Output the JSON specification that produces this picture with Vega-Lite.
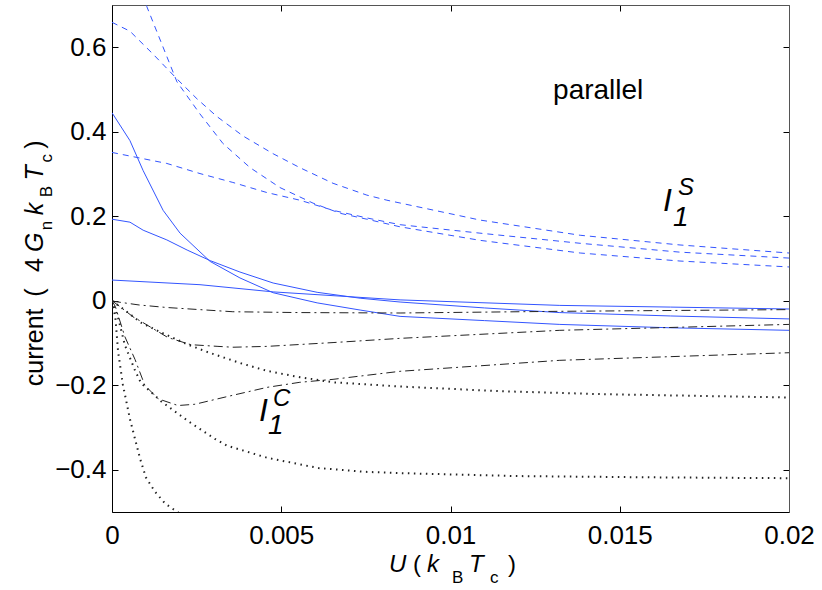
{
  "$schema": "https://vega.github.io/schema/vega-lite/v6.json",
  "width": 677,
  "height": 507,
  "autosize": {"type": "none"},
  "padding": {"left": 112, "top": 5, "right": 33, "bottom": 78},
  "background": "white",
  "config": {
    "view": {"stroke": null},
    "font": "Liberation Sans",
    "axis": {"labelFont": "Liberation Sans", "titleFont": "Liberation Sans"}
  },
  "datasets": {
    "solid": [
      {"curve": "S1", "u": 0, "i": 0.445}, {"curve": "S1", "u": 0.00053, "i": 0.379}, {"curve": "S1", "u": 0.00092, "i": 0.308},
      {"curve": "S1", "u": 0.00151, "i": 0.214}, {"curve": "S1", "u": 0.00201, "i": 0.16}, {"curve": "S1", "u": 0.0029, "i": 0.093},
      {"curve": "S1", "u": 0.00378, "i": 0.054}, {"curve": "S1", "u": 0.00476, "i": 0.019}, {"curve": "S1", "u": 0.00606, "i": -0.005},
      {"curve": "S1", "u": 0.00733, "i": -0.022}, {"curve": "S1", "u": 0.00851, "i": -0.037}, {"curve": "S1", "u": 0.011, "i": -0.047},
      {"curve": "S1", "u": 0.01323, "i": -0.056}, {"curve": "S1", "u": 0.0165, "i": -0.064}, {"curve": "S1", "u": 0.02, "i": -0.07},
      {"curve": "S2", "u": 0, "i": 0.193}, {"curve": "S2", "u": 0.00053, "i": 0.186}, {"curve": "S2", "u": 0.00092, "i": 0.167},
      {"curve": "S2", "u": 0.00162, "i": 0.144}, {"curve": "S2", "u": 0.00222, "i": 0.12}, {"curve": "S2", "u": 0.0029, "i": 0.095},
      {"curve": "S2", "u": 0.00378, "i": 0.068}, {"curve": "S2", "u": 0.00476, "i": 0.042}, {"curve": "S2", "u": 0.00606, "i": 0.02},
      {"curve": "S2", "u": 0.00733, "i": 0.006}, {"curve": "S2", "u": 0.00851, "i": -0.003}, {"curve": "S2", "u": 0.011, "i": -0.017},
      {"curve": "S2", "u": 0.01323, "i": -0.028}, {"curve": "S2", "u": 0.0165, "i": -0.036}, {"curve": "S2", "u": 0.02, "i": -0.043},
      {"curve": "S3", "u": 0, "i": 0.049}, {"curve": "S3", "u": 0.0026, "i": 0.038}, {"curve": "S3", "u": 0.00476, "i": 0.021},
      {"curve": "S3", "u": 0.00851, "i": 0.002}, {"curve": "S3", "u": 0.01323, "i": -0.011}, {"curve": "S3", "u": 0.0165, "i": -0.015},
      {"curve": "S3", "u": 0.02, "i": -0.0195}
    ],
    "dashed": [
      {"curve": "A", "u": 0, "i": 1.0}, {"curve": "A", "u": 0.0004, "i": 0.86}, {"curve": "A", "u": 0.00103, "i": 0.696},
      {"curve": "A", "u": 0.00192, "i": 0.518}, {"curve": "A", "u": 0.0026, "i": 0.442}, {"curve": "A", "u": 0.00328, "i": 0.372},
      {"curve": "A", "u": 0.00408, "i": 0.315}, {"curve": "A", "u": 0.00496, "i": 0.268}, {"curve": "A", "u": 0.00594, "i": 0.231},
      {"curve": "A", "u": 0.00674, "i": 0.207}, {"curve": "A", "u": 0.00753, "i": 0.193}, {"curve": "A", "u": 0.00851, "i": 0.175},
      {"curve": "A", "u": 0.01087, "i": 0.143}, {"curve": "A", "u": 0.01383, "i": 0.113}, {"curve": "A", "u": 0.01678, "i": 0.094},
      {"curve": "A", "u": 0.02, "i": 0.08},
      {"curve": "B", "u": 0, "i": 0.659}, {"curve": "B", "u": 0.00053, "i": 0.638}, {"curve": "B", "u": 0.00121, "i": 0.584},
      {"curve": "B", "u": 0.00192, "i": 0.525}, {"curve": "B", "u": 0.00251, "i": 0.478}, {"curve": "B", "u": 0.0031, "i": 0.436},
      {"curve": "B", "u": 0.00387, "i": 0.39}, {"curve": "B", "u": 0.00476, "i": 0.348}, {"curve": "B", "u": 0.00555, "i": 0.315},
      {"curve": "B", "u": 0.00653, "i": 0.278}, {"curve": "B", "u": 0.00753, "i": 0.25}, {"curve": "B", "u": 0.00812, "i": 0.238},
      {"curve": "B", "u": 0.01087, "i": 0.191}, {"curve": "B", "u": 0.01383, "i": 0.155}, {"curve": "B", "u": 0.01678, "i": 0.132},
      {"curve": "B", "u": 0.02, "i": 0.113},
      {"curve": "C", "u": 0, "i": 0.351}, {"curve": "C", "u": 0.00162, "i": 0.325}, {"curve": "C", "u": 0.0026, "i": 0.301},
      {"curve": "C", "u": 0.00357, "i": 0.28}, {"curve": "C", "u": 0.00458, "i": 0.256}, {"curve": "C", "u": 0.00555, "i": 0.238},
      {"curve": "C", "u": 0.00653, "i": 0.214}, {"curve": "C", "u": 0.00753, "i": 0.196}, {"curve": "C", "u": 0.00851, "i": 0.18},
      {"curve": "C", "u": 0.01087, "i": 0.16}, {"curve": "C", "u": 0.01383, "i": 0.136}, {"curve": "C", "u": 0.01678, "i": 0.115},
      {"curve": "C", "u": 0.02, "i": 0.101}
    ],
    "dashdot": [
      {"curve": "D1", "u": 0, "i": 0}, {"curve": "D1", "u": 0.0001, "i": -0.002}, {"curve": "D1", "u": 0.0008, "i": -0.01},
      {"curve": "D1", "u": 0.00162, "i": -0.016}, {"curve": "D1", "u": 0.00357, "i": -0.026}, {"curve": "D1", "u": 0.00555, "i": -0.028},
      {"curve": "D1", "u": 0.00851, "i": -0.029}, {"curve": "D1", "u": 0.01323, "i": -0.025}, {"curve": "D1", "u": 0.02, "i": -0.021},
      {"curve": "D2", "u": 0, "i": 0}, {"curve": "D2", "u": 0.00027, "i": -0.016}, {"curve": "D2", "u": 0.00062, "i": -0.038},
      {"curve": "D2", "u": 0.00086, "i": -0.049}, {"curve": "D2", "u": 0.00165, "i": -0.087}, {"curve": "D2", "u": 0.00233, "i": -0.104},
      {"curve": "D2", "u": 0.00313, "i": -0.108}, {"curve": "D2", "u": 0.00357, "i": -0.11}, {"curve": "D2", "u": 0.00458, "i": -0.108},
      {"curve": "D2", "u": 0.00653, "i": -0.099}, {"curve": "D2", "u": 0.00851, "i": -0.089}, {"curve": "D2", "u": 0.01323, "i": -0.07},
      {"curve": "D2", "u": 0.02, "i": -0.056},
      {"curve": "D3", "u": 0, "i": 0}, {"curve": "D3", "u": 0.0001, "i": -0.014}, {"curve": "D3", "u": 0.00038, "i": -0.085},
      {"curve": "D3", "u": 0.00068, "i": -0.139}, {"curve": "D3", "u": 0.00097, "i": -0.2}, {"curve": "D3", "u": 0.00136, "i": -0.232},
      {"curve": "D3", "u": 0.00195, "i": -0.248}, {"curve": "D3", "u": 0.00245, "i": -0.245}, {"curve": "D3", "u": 0.00334, "i": -0.228},
      {"curve": "D3", "u": 0.00458, "i": -0.205}, {"curve": "D3", "u": 0.00555, "i": -0.193}, {"curve": "D3", "u": 0.00653, "i": -0.186},
      {"curve": "D3", "u": 0.00851, "i": -0.167}, {"curve": "D3", "u": 0.01323, "i": -0.141}, {"curve": "D3", "u": 0.02, "i": -0.123}
    ],
    "dotted": [
      {"curve": "P1", "u": 0, "i": 0}, {"curve": "P1", "u": 0.00047, "i": -0.028}, {"curve": "P1", "u": 0.00086, "i": -0.052},
      {"curve": "P1", "u": 0.00145, "i": -0.075}, {"curve": "P1", "u": 0.00225, "i": -0.104}, {"curve": "P1", "u": 0.00284, "i": -0.122},
      {"curve": "P1", "u": 0.00381, "i": -0.148}, {"curve": "P1", "u": 0.00458, "i": -0.166}, {"curve": "P1", "u": 0.00555, "i": -0.181},
      {"curve": "P1", "u": 0.00653, "i": -0.193}, {"curve": "P1", "u": 0.00851, "i": -0.203}, {"curve": "P1", "u": 0.01146, "i": -0.214},
      {"curve": "P1", "u": 0.01442, "i": -0.221}, {"curve": "P1", "u": 0.02, "i": -0.229},
      {"curve": "P2", "u": 0, "i": 0}, {"curve": "P2", "u": 0.00018, "i": -0.04}, {"curve": "P2", "u": 0.00038, "i": -0.105},
      {"curve": "P2", "u": 0.00068, "i": -0.165}, {"curve": "P2", "u": 0.00086, "i": -0.195}, {"curve": "P2", "u": 0.00145, "i": -0.238},
      {"curve": "P2", "u": 0.00225, "i": -0.285}, {"curve": "P2", "u": 0.00304, "i": -0.327}, {"curve": "P2", "u": 0.0034, "i": -0.343},
      {"curve": "P2", "u": 0.0046, "i": -0.372}, {"curve": "P2", "u": 0.0061, "i": -0.396}, {"curve": "P2", "u": 0.0075, "i": -0.405},
      {"curve": "P2", "u": 0.0085, "i": -0.408}, {"curve": "P2", "u": 0.012, "i": -0.415}, {"curve": "P2", "u": 0.016, "i": -0.418},
      {"curve": "P2", "u": 0.02, "i": -0.42},
      {"curve": "P3", "u": 0, "i": 0}, {"curve": "P3", "u": 0.0001, "i": -0.04}, {"curve": "P3", "u": 0.00018, "i": -0.12},
      {"curve": "P3", "u": 0.00032, "i": -0.198}, {"curve": "P3", "u": 0.00041, "i": -0.233}, {"curve": "P3", "u": 0.00053, "i": -0.28},
      {"curve": "P3", "u": 0.00068, "i": -0.327}, {"curve": "P3", "u": 0.00083, "i": -0.374}, {"curve": "P3", "u": 0.001, "i": -0.418},
      {"curve": "P3", "u": 0.00127, "i": -0.452}, {"curve": "P3", "u": 0.00157, "i": -0.48}, {"curve": "P3", "u": 0.00186, "i": -0.496},
      {"curve": "P3", "u": 0.0025, "i": -0.53}
    ],
    "note": [{"u": 0.01303, "i": 0.4776, "label": "parallel"}],
    "bigI": [{"u": 0.01628, "i": 0.2118, "label": "I"}, {"u": 0.004343, "i": -0.2847, "label": "I"}],
    "subOne": [{"u": 0.01657, "i": 0.1765, "label": "1"}, {"u": 0.004609, "i": -0.3153, "label": "1"}],
    "supLetter": [{"u": 0.01672, "i": 0.2494, "label": "S"}, {"u": 0.004756, "i": -0.2494, "label": "C"}],
    "xTitleItalic": [
      {"u": 0.008183, "i": -0.6412, "label": "U"},
      {"u": 0.009306, "i": -0.6412, "label": "k"},
      {"u": 0.010547, "i": -0.6412, "label": "T"}
    ],
    "xTitleUpright": [
      {"u": 0.008892, "i": -0.6412, "label": "("},
      {"u": 0.011699, "i": -0.6412, "label": ")"}
    ],
    "xTitleSub": [
      {"u": 0.010044, "i": -0.667, "label": "B"},
      {"u": 0.011166, "i": -0.667, "label": "c"}
    ],
    "yTitleUpright": [
      {"u": -0.002038, "i": -0.2024, "label": "current"},
      {"u": -0.002038, "i": 0.0094, "label": "("},
      {"u": -0.002038, "i": 0.0682, "label": "4"},
      {"u": -0.002038, "i": 0.36, "label": ")"}
    ],
    "yTitleItalic": [
      {"u": -0.002038, "i": 0.1153, "label": "G"},
      {"u": -0.002038, "i": 0.2024, "label": "k"},
      {"u": -0.002038, "i": 0.2847, "label": "T"}
    ],
    "yTitleSub": [
      {"u": -0.001773, "i": 0.167, "label": "n"},
      {"u": -0.001773, "i": 0.2447, "label": "B"},
      {"u": -0.001773, "i": 0.327, "label": "c"}
    ]
  },
  "layer": [
    {
      "data": {"name": "solid"},
      "mark": {"type": "line", "color": "#3355ff", "strokeWidth": 1, "clip": true},
      "encoding": {
        "x": {
          "field": "u", "type": "quantitative",
          "scale": {"domain": [0, 0.02], "nice": false, "zero": false},
          "axis": {
            "orient": "bottom", "values": [0, 0.005, 0.01, 0.015, 0.02], "format": "~g",
            "title": null, "grid": false, "tickSize": -6, "tickColor": "#000", "domainColor": "#000",
            "labelFontSize": 26, "labelColor": "#000", "labelPadding": 16, "labelFlush": false, "labelOverlap": false
          }
        },
        "y": {
          "field": "i", "type": "quantitative",
          "scale": {"domain": [-0.5, 0.7], "nice": false, "zero": false},
          "axis": {
            "orient": "left", "values": [-0.4, -0.2, 0, 0.2, 0.4, 0.6], "format": "~g",
            "title": null, "grid": false, "tickSize": -6, "tickColor": "#000", "domainColor": "#000",
            "labelFontSize": 26, "labelColor": "#000", "labelPadding": 12, "labelFlush": false, "labelOverlap": false
          }
        },
        "detail": {"field": "curve"}
      }
    },
    {
      "data": {"name": "dashed"},
      "mark": {"type": "line", "color": "#3355ff", "strokeWidth": 1, "strokeDash": [6, 5], "clip": true},
      "encoding": {
        "x": {
          "field": "u", "type": "quantitative",
          "scale": {"domain": [0, 0.02], "nice": false, "zero": false},
          "axis": {
            "orient": "top", "values": [0, 0.005, 0.01, 0.015, 0.02], "labels": false,
            "title": null, "grid": false, "tickSize": -6, "tickColor": "#000", "domainColor": "#555"
          }
        },
        "y": {
          "field": "i", "type": "quantitative",
          "scale": {"domain": [-0.5, 0.7], "nice": false, "zero": false},
          "axis": {
            "orient": "right", "values": [-0.4, -0.2, 0, 0.2, 0.4, 0.6], "labels": false,
            "title": null, "grid": false, "tickSize": -6, "tickColor": "#000", "domainColor": "#555"
          }
        },
        "detail": {"field": "curve"}
      }
    },
    {
      "data": {"name": "dashdot"},
      "mark": {"type": "line", "color": "#222", "strokeWidth": 1, "strokeDash": [9, 4, 2, 4], "clip": true},
      "encoding": {
        "x": {"field": "u", "type": "quantitative", "scale": {"domain": [0, 0.02], "nice": false, "zero": false}, "axis": null},
        "y": {"field": "i", "type": "quantitative", "scale": {"domain": [-0.5, 0.7], "nice": false, "zero": false}, "axis": null},
        "detail": {"field": "curve"}
      }
    },
    {
      "data": {"name": "dotted"},
      "mark": {"type": "line", "color": "#222", "strokeWidth": 2, "strokeDash": [1.5, 4.5], "clip": true},
      "encoding": {
        "x": {"field": "u", "type": "quantitative", "scale": {"domain": [0, 0.02], "nice": false, "zero": false}, "axis": null},
        "y": {"field": "i", "type": "quantitative", "scale": {"domain": [-0.5, 0.7], "nice": false, "zero": false}, "axis": null},
        "detail": {"field": "curve"}
      }
    },
    {
      "data": {"name": "note"},
      "mark": {"type": "text", "font": "Liberation Sans", "fontSize": 28, "color": "#000", "align": "left", "baseline": "alphabetic"},
      "encoding": {
        "x": {"field": "u", "type": "quantitative", "axis": null},
        "y": {"field": "i", "type": "quantitative", "axis": null},
        "text": {"field": "label"}
      }
    },
    {
      "data": {"name": "bigI"},
      "mark": {"type": "text", "font": "Liberation Sans", "fontSize": 32, "fontStyle": "italic", "color": "#000", "align": "left", "baseline": "alphabetic"},
      "encoding": {
        "x": {"field": "u", "type": "quantitative", "axis": null},
        "y": {"field": "i", "type": "quantitative", "axis": null},
        "text": {"field": "label"}
      }
    },
    {
      "data": {"name": "subOne"},
      "mark": {"type": "text", "font": "Liberation Sans", "fontSize": 28, "fontStyle": "italic", "color": "#000", "align": "left", "baseline": "alphabetic"},
      "encoding": {
        "x": {"field": "u", "type": "quantitative", "axis": null},
        "y": {"field": "i", "type": "quantitative", "axis": null},
        "text": {"field": "label"}
      }
    },
    {
      "data": {"name": "supLetter"},
      "mark": {"type": "text", "font": "Liberation Sans", "fontSize": 24, "fontStyle": "italic", "color": "#000", "align": "left", "baseline": "alphabetic"},
      "encoding": {
        "x": {"field": "u", "type": "quantitative", "axis": null},
        "y": {"field": "i", "type": "quantitative", "axis": null},
        "text": {"field": "label"}
      }
    },
    {
      "data": {"name": "xTitleItalic"},
      "mark": {"type": "text", "font": "Liberation Sans", "fontSize": 24, "fontStyle": "italic", "color": "#000", "align": "left", "baseline": "alphabetic"},
      "encoding": {
        "x": {"field": "u", "type": "quantitative", "axis": null},
        "y": {"field": "i", "type": "quantitative", "axis": null},
        "text": {"field": "label"}
      }
    },
    {
      "data": {"name": "xTitleUpright"},
      "mark": {"type": "text", "font": "Liberation Sans", "fontSize": 24, "color": "#000", "align": "left", "baseline": "alphabetic"},
      "encoding": {
        "x": {"field": "u", "type": "quantitative", "axis": null},
        "y": {"field": "i", "type": "quantitative", "axis": null},
        "text": {"field": "label"}
      }
    },
    {
      "data": {"name": "xTitleSub"},
      "mark": {"type": "text", "font": "Liberation Sans", "fontSize": 17, "color": "#000", "align": "left", "baseline": "alphabetic"},
      "encoding": {
        "x": {"field": "u", "type": "quantitative", "axis": null},
        "y": {"field": "i", "type": "quantitative", "axis": null},
        "text": {"field": "label"}
      }
    },
    {
      "data": {"name": "yTitleUpright"},
      "mark": {"type": "text", "font": "Liberation Sans", "fontSize": 25, "color": "#000", "align": "left", "baseline": "alphabetic", "angle": 270},
      "encoding": {
        "x": {"field": "u", "type": "quantitative", "axis": null},
        "y": {"field": "i", "type": "quantitative", "axis": null},
        "text": {"field": "label"}
      }
    },
    {
      "data": {"name": "yTitleItalic"},
      "mark": {"type": "text", "font": "Liberation Sans", "fontSize": 25, "fontStyle": "italic", "color": "#000", "align": "left", "baseline": "alphabetic", "angle": 270},
      "encoding": {
        "x": {"field": "u", "type": "quantitative", "axis": null},
        "y": {"field": "i", "type": "quantitative", "axis": null},
        "text": {"field": "label"}
      }
    },
    {
      "data": {"name": "yTitleSub"},
      "mark": {"type": "text", "font": "Liberation Sans", "fontSize": 17, "color": "#000", "align": "left", "baseline": "alphabetic", "angle": 270},
      "encoding": {
        "x": {"field": "u", "type": "quantitative", "axis": null},
        "y": {"field": "i", "type": "quantitative", "axis": null},
        "text": {"field": "label"}
      }
    }
  ],
  "resolve": {"axis": {"x": "independent", "y": "independent"}}
}
